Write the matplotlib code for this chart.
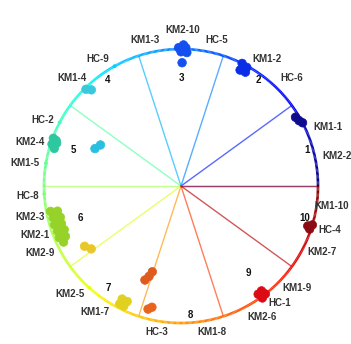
import matplotlib.pyplot as plt
import numpy as np
from matplotlib.collections import LineCollection

# sector numbers and where they are written (degrees, radius of unit wheel)
sector_ids = ['1', '2', '3', '4', '5', '6', '7', '8', '9', '10']
sector_label_theta = [15.9, 54.0, 89.5, 124.6, 161.6, 197.7, 234.4, 274.0, 307.6, 345.5]
sector_label_r = [0.956, 0.956, 0.79, 0.94, 0.83, 0.77, 0.915, 0.944, 0.80, 0.934]

# sample names around the rim
sample_names = ['KM1-1', 'KM2-2', 'KM1-10', 'HC-4', 'KM2-7', 'KM1-9', 'HC-1', 'KM2-6',
                'KM1-8', 'HC-3', 'KM1-7', 'KM2-5', 'KM2-9', 'KM2-1', 'KM2-3', 'HC-8',
                'KM1-5', 'KM2-4', 'HC-2', 'KM1-4', 'HC-9', 'KM1-3', 'KM2-10', 'HC-5',
                'KM1-2', 'HC-6']
sample_theta = [21.9, 10.9, 352.3, 343.5, 334.9, 318.7, 310.2, 301.7,
                282.0, 260.7, 235.7, 224.2, 205.4, 198.6, 191.6, 183.7,
                171.6, 163.8, 154.4, 135.3, 123.2, 103.9, 89.3, 76.1,
                55.9, 44.2]
sample_r = [1.156, 1.16, 1.112, 1.134, 1.136, 1.128, 1.119, 1.124,
            1.09, 1.08, 1.113, 1.13, 1.14, 1.124, 1.125, 1.119,
            1.151, 1.148, 1.117, 1.12, 1.107, 1.098, 1.139, 1.098,
            1.12, 1.13]

# single samples sitting on the rim
rim_theta = [119.0, 152.3, 170.4, 183.3, 228.0]

# clustered samples
point_theta = [31.0, 27.5, 29.0,
               63.5, 61.0, 63.0, 60.5, 62.0,
               91.0, 88.0, 90.0, 87.5, 89.0, 89.5,
               134.5, 133.0,
               162.0, 159.5, 161.0, 163.5, 160.0,
               156.5, 153.0,
               191.0, 191.5, 194.0, 194.5, 197.0, 197.5, 200.0, 200.5, 203.0, 203.5, 205.5,
               212.0, 215.0,
               242.5, 244.5, 242.5, 245.0, 243.5,
               249.0, 250.5, 251.5,
               255.0, 256.5,
               306.0, 308.0, 305.5, 307.5, 306.8,
               343.5, 341.5, 342.5]
point_r = [0.975, 1.0, 0.985,
           1.0, 0.99, 0.95, 0.955, 0.975,
           1.01, 1.01, 0.98, 0.975, 1.03, 0.90,
           0.99, 0.96,
           0.99, 0.995, 0.96, 0.965, 0.97,
           0.685, 0.66,
           0.97, 0.92, 0.96, 0.91, 0.965, 0.915, 0.96, 0.91, 0.965, 0.92, 0.95,
           0.83, 0.80,
           0.97, 0.97, 0.93, 0.93, 0.95,
           0.735, 0.70, 0.66,
           0.93, 0.91,
           1.01, 1.0, 0.97, 0.965, 0.985,
           1.0, 0.99, 0.97]
point_group = [0] * 3 + [1] * 5 + [2] * 6 + [3] * 2 + [4] * 5 + [5] * 2 + [6] * 11 + \
              [7] * 2 + [8] * 5 + [9] * 3 + [10] * 2 + [11] * 5 + [12] * 3
group_colors = ['#0c0c8c', '#0a2ee6', '#1450f0', '#3cc8dc', '#2ec8a0', '#28c0e0',
                '#96d228', '#e8c828', '#e0d020', '#e05a1e', '#e8641e', '#dc0a14',
                '#8c0a14']

# colormap positions of the spokes at 0, 36, ..., 360 degrees
spoke_cpos = [0.05, 0.15, 0.25, 0.3, 0.45, 0.55, 0.62, 0.75, 0.85, 0.95, 0.95]

cmap = plt.get_cmap('jet')
fig = plt.figure(figsize=(3.51, 3.44), dpi=100)
ax = fig.add_axes([0.5157 - 0.3903, 0.4593 - 0.3983, 0.7806, 0.7965], projection='polar')
ax.set_ylim(0, 1)
ax.grid(False)
ax.set_xticks([])
ax.set_yticks([])
ax.spines['polar'].set_visible(False)
ax.patch.set_visible(False)

# spokes between sectors (first and last overlap at 0 deg)
n = len(sector_ids)
for k, cp in enumerate(spoke_cpos):
    th = 2 * np.pi * k / n
    a = 0.5 if k in (0, n) else 0.65
    ax.plot([th, th], [0, 1], color=cmap(cp), lw=1.0, alpha=a, zorder=1)

# rim coloured along the wheel
t = np.linspace(0, 2 * np.pi, 721)
segs = [[(t[i], 1.0), (t[i + 1], 1.0)] for i in range(len(t) - 1)]
rim = LineCollection(segs, colors=cmap(t[:-1] / (2 * np.pi)), linewidths=1.9, zorder=2)
rim.set_clip_on(False)
ax.add_collection(rim)

ax.scatter(np.radians(rim_theta), np.ones(len(rim_theta)), s=3,
           c=[cmap(a / 360) for a in rim_theta], zorder=3, clip_on=False)

for name, a, r in zip(sample_names, sample_theta, sample_r):
    ax.text(np.radians(a), r, name, ha='center', va='center', fontsize=7,
            fontweight='bold', color='#333333', family='Liberation Sans', zorder=3)

cols = [group_colors[g] for g in point_group]
ax.scatter(np.radians(point_theta), point_r, s=38, c=cols, edgecolors=cols,
           linewidths=0.5, zorder=4, clip_on=False)

for sid, a, r in zip(sector_ids, sector_label_theta, sector_label_r):
    ax.text(np.radians(a), r, sid, ha='center', va='center', fontsize=7,
            fontweight='bold', color='#111111', family='Liberation Sans', zorder=5)

fig.savefig('out.png', dpi=100)
